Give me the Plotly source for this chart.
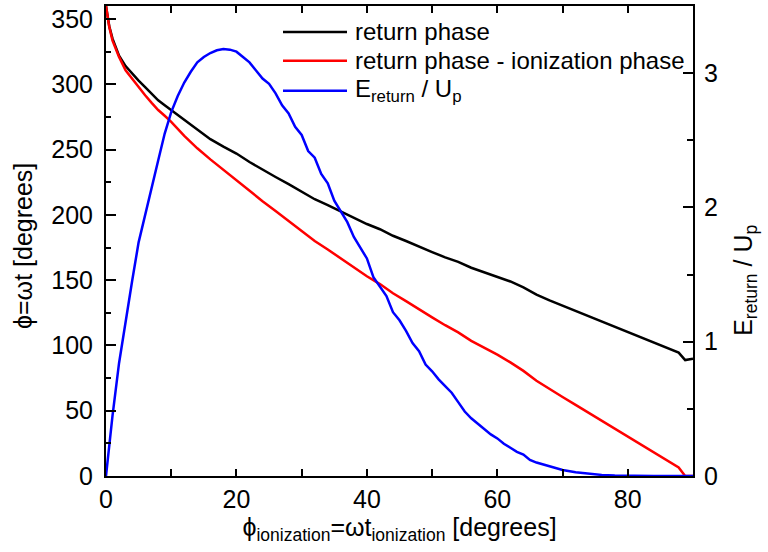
import plotly.graph_objects as go

# ---- data ----
phase_x = [0, 0.5, 1, 2, 3, 4, 5, 6, 7, 8, 9, 10,
           12, 14, 16, 18, 20, 22, 24, 26, 28, 30, 32, 34, 36, 38, 40,
           42, 44, 46, 48, 50, 52, 54, 56, 58, 60, 62, 64, 66, 68, 70,
           72, 74, 76, 78, 80, 82, 84, 86, 87.8, 88.8, 90]
return_phase = [360, 344.5, 335, 322, 314, 308, 302.8, 297.8, 292.8, 287.8, 284, 280.3,
                272.2, 265, 258, 252.3, 247, 240.5, 234.5, 229, 223.5, 218, 212, 207.5, 202.5, 197.5, 193,
                189, 184, 180, 175.5, 171.5, 167.5, 164, 159.5, 156, 153, 149, 144.5, 139, 134.5, 130.5,
                126.5, 122.5, 118.5, 114.5, 110.5, 106, 102, 98, 94.5, 88.8, 89.8]
return_minus_ion = [360, 344, 333.5, 321, 310.8, 304.2, 297.5, 291.6, 285.8, 280.3, 275.9, 271.3,
                    260.5, 251, 242.5, 234.5, 226, 218, 210.5, 203, 195.5, 188, 180, 173.5, 166.5, 159.5, 153,
                    147, 140, 134, 127.5, 121.5, 115.5, 110, 103.5, 98.5, 93, 87, 80.5, 73, 66.5, 60.5,
                    54.5, 48.5, 42.5, 36.4, 30.4, 24, 18, 12, 6.5, 0, 0]

energy_x = [0, 1, 2, 3, 4, 5, 6, 7, 8, 9, 10, 11, 12, 13, 14, 15, 16, 17, 18, 19, 20,
            21, 22, 23, 24, 25, 26, 27, 28, 29, 30, 31, 32, 33, 34, 35, 36, 37, 38, 39, 40,
            41, 42, 43, 44, 45, 46, 47, 48, 49, 50, 51, 52, 53, 54, 55, 56, 57, 58, 59, 60,
            61, 62, 63, 64, 65, 66, 67, 68, 69, 70, 72, 74, 76, 78, 80, 84, 90]
energy_ratio = [0, 0.45, 0.84, 1.16, 1.45, 1.74, 1.95, 2.15, 2.35, 2.55, 2.71, 2.83, 2.93, 3.01,
                3.08, 3.12, 3.15, 3.17, 3.18, 3.175, 3.16,
                3.12, 3.08, 3.02, 2.96, 2.92, 2.85, 2.76, 2.70, 2.60, 2.54, 2.42, 2.37, 2.25, 2.18,
                2.05, 1.97, 1.89, 1.78, 1.70, 1.62,
                1.48, 1.41, 1.34, 1.22, 1.16, 1.08, 0.99, 0.93, 0.83, 0.78, 0.72, 0.67, 0.62, 0.55,
                0.48, 0.43, 0.39, 0.35, 0.31, 0.28,
                0.24, 0.21, 0.18, 0.16, 0.12, 0.10, 0.085, 0.07, 0.058, 0.045, 0.028, 0.016, 0.008,
                0.003, 0.001, 0, 0]

x_ticks = [0, 10, 20, 30, 40, 50, 60, 70, 80, 90]
x_ticktext = ["0", "", "20", "", "40", "", "60", "", "80", ""]

series_names = ["return phase", "return phase - ionization phase", "E<sub>return</sub> / U<sub>p</sub>"]
series_colors = ["#000000", "#ff0000", "#0000ff"]

FONT = "Liberation Sans, Arial, sans-serif"

fig = go.Figure()
fig.add_trace(go.Scatter(x=phase_x, y=return_phase, mode="lines",
                         line=dict(color=series_colors[0], width=2.5), name=series_names[0]))
fig.add_trace(go.Scatter(x=phase_x, y=return_minus_ion, mode="lines",
                         line=dict(color=series_colors[1], width=2.5), name=series_names[1]))
fig.add_trace(go.Scatter(x=energy_x, y=energy_ratio, mode="lines", yaxis="y2",
                         line=dict(color=series_colors[2], width=2.5), name=series_names[2]))

axis_common = dict(showgrid=False, zeroline=False, showline=True, linecolor="black",
                   linewidth=2, ticks="inside", tickcolor="black", tickwidth=1.5,
                   tickfont=dict(family=FONT, size=25, color="black"))

fig.update_layout(
    width=768, height=552,
    margin=dict(l=106, r=75, t=4, b=76),
    paper_bgcolor="white", plot_bgcolor="white",
    showlegend=False,
    font=dict(family=FONT, size=25, color="black"),
    xaxis=dict(range=[0, 90], tickmode="array", tickvals=x_ticks, ticktext=x_ticktext,
               ticklen=7, mirror="ticks", ticklabelstandoff=0,
               title=dict(text="ϕ<sub>ionization</sub>=ωt<sub>ionization</sub> [degrees]",
                          font=dict(family=FONT, size=25), standoff=0),
               **axis_common),
    yaxis=dict(range=[0, 360], tickmode="linear", tick0=0, dtick=50, ticklen=10,
               ticklabelstandoff=6,
               minor=dict(dtick=25, ticklen=5, ticks="inside", tickcolor="black", tickwidth=1.5),
               **axis_common),
    yaxis2=dict(range=[0, 3.5], overlaying="y", side="right", tickmode="linear", tick0=0, dtick=1,
                ticklen=10, ticklabelstandoff=4,
                minor=dict(dtick=0.5, ticklen=6, ticks="inside", tickcolor="black", tickwidth=1.5),
                **axis_common),
)

# axis titles on the y sides
fig.add_annotation(text="ϕ=ωt [degrees]", textangle=-90, xref="paper", yref="paper",
                   x=(23 - 106) / 587, y=(476 - 245) / 472, xanchor="center", yanchor="middle",
                   showarrow=False, font=dict(family=FONT, size=25, color="black"))
fig.add_annotation(text="E<sub>return</sub> / U<sub>p</sub>", textangle=-90, xref="paper", yref="paper",
                   x=(745 - 106) / 587, y=(476 - 280) / 472, xanchor="center", yanchor="middle",
                   showarrow=False, font=dict(family=FONT, size=25, color="black"))

# legend drawn by hand (long line samples as in the reference)
legend_rows_px = [30, 59, 89]
for name, color, py in zip(series_names, series_colors, legend_rows_px):
    yp = (476 - py) / 472
    fig.add_shape(type="line", xref="paper", yref="paper",
                  x0=(283 - 106) / 587, x1=(347 - 106) / 587, y0=yp, y1=yp,
                  line=dict(color=color, width=2.5))
    fig.add_annotation(text=name, xref="paper", yref="paper", x=(353 - 106) / 587, y=yp,
                       xanchor="left", yanchor="middle", showarrow=False,
                       font=dict(family=FONT, size=24, color="black"))

fig.write_html("out.html")
